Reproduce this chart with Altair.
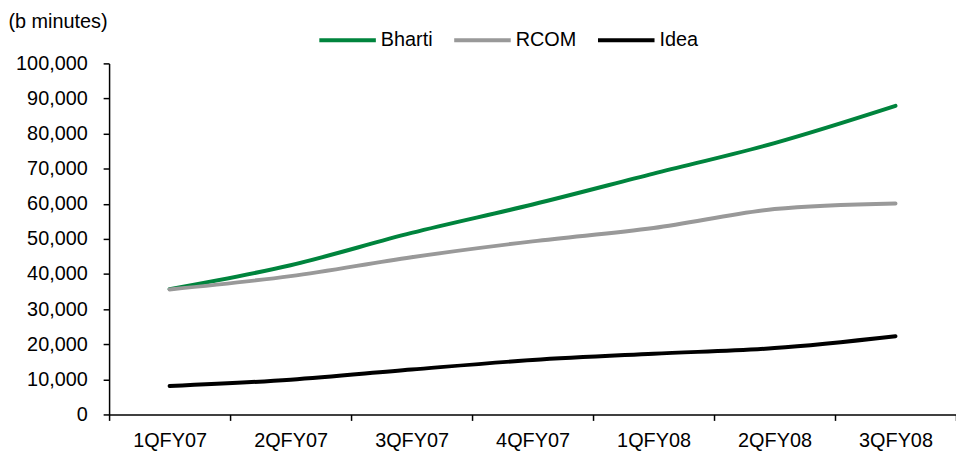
import altair as alt
import pandas as pd

# Quarterly minutes of usage (billion minutes) by operator
quarters = ["1QFY07", "2QFY07", "3QFY07", "4QFY07", "1QFY08", "2QFY08", "3QFY08"]
bharti = [35700, 42500, 51700, 59800, 68600, 77300, 87900]
rcom = [35600, 39400, 44800, 49300, 53100, 58500, 60100]
idea = [8100, 9900, 12800, 15500, 17300, 18900, 22300]

operators = ["Bharti", "RCOM", "Idea"]
colors = ["#00843D", "#999999", "#000000"]

rows = []
for name, series in zip(operators, [bharti, rcom, idea]):
    for q, v in zip(quarters, series):
        rows.append({"quarter": q, "operator": name, "minutes": v})
df = pd.DataFrame(rows)

FONT = "Liberation Sans"
FS = 20

chart = (
    alt.Chart(df)
    .mark_line(interpolate="catmull-rom", strokeWidth=4, strokeCap="round")
    .encode(
        x=alt.X(
            "quarter:O",
            sort=quarters,
            bandPosition=0.5,
            scale=alt.Scale(type="band", paddingInner=0, paddingOuter=0),
            axis=alt.Axis(
                title=None,
                labelAngle=0,
                tickBand="extent",
                tickSize=6,
                labelPadding=10,
                domainColor="#000000",
                tickColor="#000000",
                domainWidth=1.5,
                tickWidth=1.5,
            ),
        ),
        y=alt.Y(
            "minutes:Q",
            scale=alt.Scale(domain=[0, 100000], nice=False),
            axis=alt.Axis(
                title="(b minutes)",
                titleAngle=0,
                titleAlign="left",
                titleBaseline="middle",
                titleX=-102,
                titleY=-42,
                titleFontWeight="normal",
                values=list(range(0, 100001, 10000)),
                format=",d",
                grid=False,
                tickSize=6,
                labelPadding=16,
                domainColor="#000000",
                tickColor="#000000",
                domainWidth=1.5,
                tickWidth=1.5,
            ),
        ),
        color=alt.Color(
            "operator:N",
            scale=alt.Scale(domain=operators, range=colors),
            sort=operators,
            legend=alt.Legend(
                title=None,
                orient="none",
                direction="horizontal",
                legendX=210,
                legendY=-54,
                symbolType="stroke",
                symbolSize=3249,
                symbolStrokeWidth=4,
                labelOffset=3,
                columnPadding=13,
                padding=0,
            ),
        ),
    )
    .properties(width=854, height=354)
    .configure(font=FONT, padding={"left": 110, "top": 62, "right": 0, "bottom": 42})
    .configure_view(stroke=None)
    .configure_axis(labelFont=FONT, labelFontSize=FS, titleFont=FONT, titleFontSize=FS,
                    labelColor="#000000", titleColor="#000000")
    .configure_legend(labelFont=FONT, labelFontSize=FS, labelColor="#000000")
    .properties(autosize=alt.AutoSizeParams(type="none"))
)

chart.save("out.html", embed_options={"renderer": "svg", "actions": False})
